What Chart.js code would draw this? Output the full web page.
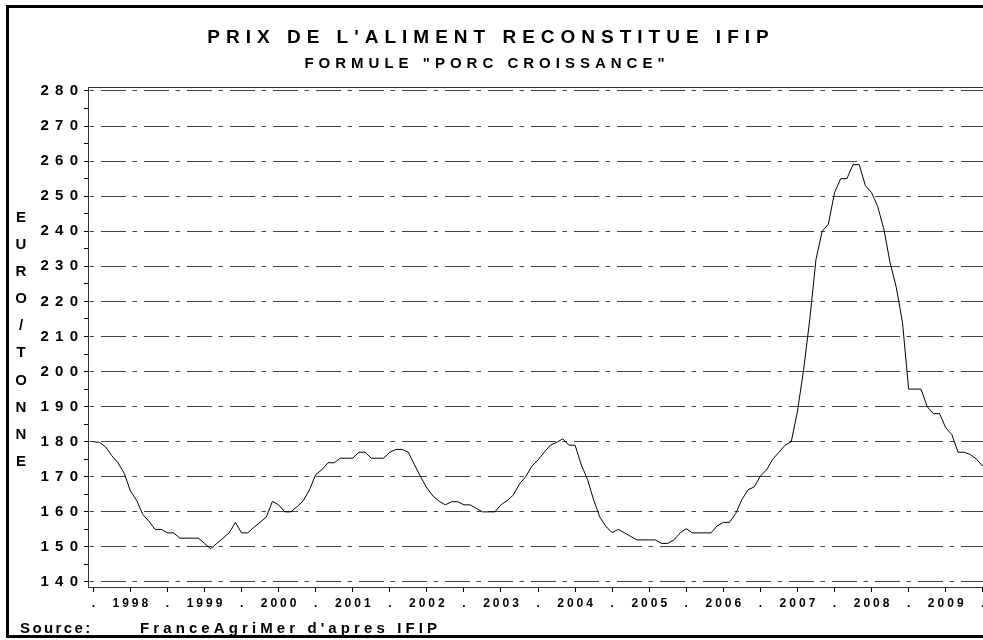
<!DOCTYPE html>
<html>
<head>
<meta charset="utf-8">
<title>Prix de l'aliment reconstitue IFIP</title>
<script src="https://cdn.jsdelivr.net/npm/chart.js@4.4.0/dist/chart.umd.min.js"></script>
<style>
  html, body { margin: 0; padding: 0; background: #fff; overflow: hidden; }
  body { width: 983px; height: 640px; position: relative; font-family: 'Liberation Sans', Arial, sans-serif; font-weight: bold; color: #000; }
  #chart { position: absolute; left: 0; top: 0; z-index: 1; }
  #frame { position: absolute; left: 6px; top: 5px; width: 1100px; height: 633px; box-sizing: border-box; border: 3px solid #000; z-index: 3; }
  .txt { position: absolute; white-space: pre; z-index: 2; }
  #title { left: 0; width: 976px; top: 27px; text-align: center; font-size: 19px; line-height: 19px; letter-spacing: 6px; padding-left: 6px; box-sizing: border-box; }
  #subtitle { left: 0; width: 969px; top: 55px; text-align: center; font-size: 15px; line-height: 15px; letter-spacing: 5px; padding-left: 5px; box-sizing: border-box; }
  #ytitle { left: 11px; width: 20px; top: 203px; text-align: center; font-size: 15px; line-height: 27.1px; }
  #source1 { left: 20px; top: 620px; font-size: 15px; line-height: 15px; letter-spacing: 2.4px; }
  #source2 { left: 140px; top: 620px; font-size: 15px; line-height: 15px; letter-spacing: 4.1px; }
</style>
</head>
<body>
<div class="txt" id="title">PRIX DE L'ALIMENT RECONSTITUE IFIP</div>
<div class="txt" id="subtitle">FORMULE "PORC CROISSANCE"</div>
<div class="txt" id="ytitle">E<br>U<br>R<br>O<br>/<br>T<br>O<br>N<br>N<br>E</div>
<div class="txt" id="source1">Source:</div>
<div class="txt" id="source2">FranceAgriMer d'apres IFIP</div>
<canvas id="chart" width="1000" height="640"></canvas>
<div id="frame"></div>
<script>
// prix mensuel (euro/tonne), de janvier 1998 a janvier 2010
const prices = [
  180, 179.8, 178.5, 176, 174, 171, 166, 163.3, 159.3, 157.3, 155, 155,
  154, 154, 152.5, 152.5, 152.5, 152.5, 151, 149.5, 151, 152.5, 154, 157,
  154, 154, 155.6, 157, 158.5, 163, 162, 160, 160, 161.5, 163.2, 166.3,
  170.6, 172, 174, 174, 175.3, 175.3, 175.3, 177, 177, 175.3, 175.3, 175.3,
  177, 177.8, 177.8, 177, 173.4, 170, 166.8, 164.5, 163, 162, 162.9, 162.9,
  162, 162, 161, 160, 160, 160, 162, 163.2, 164.8, 168, 170, 173,
  174.8, 177, 179, 179.8, 180.8, 179, 179, 173.4, 169.3, 163.4, 158.5, 155.8,
  154.1, 155, 154, 153, 152, 152, 152, 152, 151, 151, 152, 154,
  155.2, 154, 154, 154, 154, 156, 157, 157, 159.5, 163.5, 166.3, 167.1,
  170.2, 172, 175, 177, 179, 180, 188.7, 200.6, 215, 232, 240, 242,
  251, 255, 255, 259, 259, 253, 251, 247, 240.5, 231, 224, 214,
  195, 195, 195, 190, 188, 188, 184, 182, 177, 177, 176.3, 175,
  173
];

// graduations de l'axe des x (mois depuis janvier 1998)
const xTickMonths = [0, 6, 12, 18, 24, 30, 36, 42, 48, 54, 60, 66, 72, 78, 84, 90, 96, 102, 108, 114, 120, 126, 132, 138, 144];
const xTickLabels = ['.', '1998', '.', '1999', '.', '2000', '.', '2001', '.', '2002', '.', '2003', '.', '2004',
                     '.', '2005', '.', '2006', '.', '2007', '.', '2008', '.', '2009', '.'];

// graduations de l'axe des y
const yTickValues = [140, 145, 150, 155, 160, 165, 170, 175, 180, 185, 190, 195, 200, 205, 210,
                     215, 220, 225, 230, 235, 240, 245, 250, 255, 260, 265, 270, 275, 280];

const FONT = "'Liberation Sans', Arial, sans-serif";

// lettres espacees comme sur l'original
const spaced = (s, gap) => s.split('').join(gap);

// ligne du haut du cadre du graphique
const plotTopLine = {
    id: 'plotTopLine',
    afterDraw(chart) {
        const { ctx, chartArea } = chart;
        ctx.save();
        ctx.strokeStyle = '#333';
        ctx.lineWidth = 1;
        ctx.beginPath();
        ctx.moveTo(chartArea.left, chartArea.top + 0.5);
        ctx.lineTo(chartArea.right, chartArea.top + 0.5);
        ctx.stroke();
        ctx.restore();
    }
};

new Chart(document.getElementById('chart'), {
    type: 'line',
    data: {
        datasets: [{
            data: prices.map((p, i) => ({ x: i, y: p })),
            borderColor: '#000',
            borderWidth: 1,
            pointRadius: 0,
            tension: 0,
            fill: false
        }]
    },
    options: {
        responsive: false,
        animation: false,
        devicePixelRatio: 1,
        layout: { padding: { left: 0, top: 87, right: 10, bottom: 23 } },
        plugins: { legend: { display: false }, tooltip: { enabled: false } },
        scales: {
            x: {
                type: 'linear',
                position: 'bottom',
                min: -0.86,
                max: 145.17,
                afterBuildTicks: s => { s.ticks = xTickMonths.map(v => ({ value: v })); },
                afterFit: s => { s.height = 30; },
                ticks: {
                    autoSkip: false,
                    maxRotation: 0,
                    color: '#000',
                    padding: 4,
                    font: { family: FONT, size: 12, weight: 'bold' },
                    callback: (v, i) => spaced(xTickLabels[i], '\u2005')
                },
                grid: { display: true, drawOnChartArea: false, drawTicks: true, tickLength: 5, tickColor: '#000' },
                border: { display: true, color: '#333', width: 1 }
            },
            y: {
                type: 'linear',
                position: 'left',
                min: 138.57,
                max: 281.14,
                afterBuildTicks: s => { s.ticks = yTickValues.map(v => ({ value: v })); },
                afterFit: s => { s.width = 88; },
                ticks: {
                    autoSkip: false,
                    color: '#000',
                    padding: 6,
                    font: { family: FONT, size: 15, weight: 'bold' },
                    callback: v => (v % 10 === 0 ? spaced(String(v), '\u2005\u2006') : '')
                },
                grid: {
                    color: c => (c.tick && c.tick.value % 10 === 0 ? '#444' : 'rgba(0,0,0,0)'),
                    lineWidth: 1,
                    drawTicks: true,
                    tickLength: 4,
                    tickColor: '#000'
                },
                border: { display: true, color: '#333', width: 1, dash: [25, 6.5, 4.5, 7], dashOffset: 31 }
            }
        }
    },
    plugins: [plotTopLine]
});
</script>
</body>
</html>
